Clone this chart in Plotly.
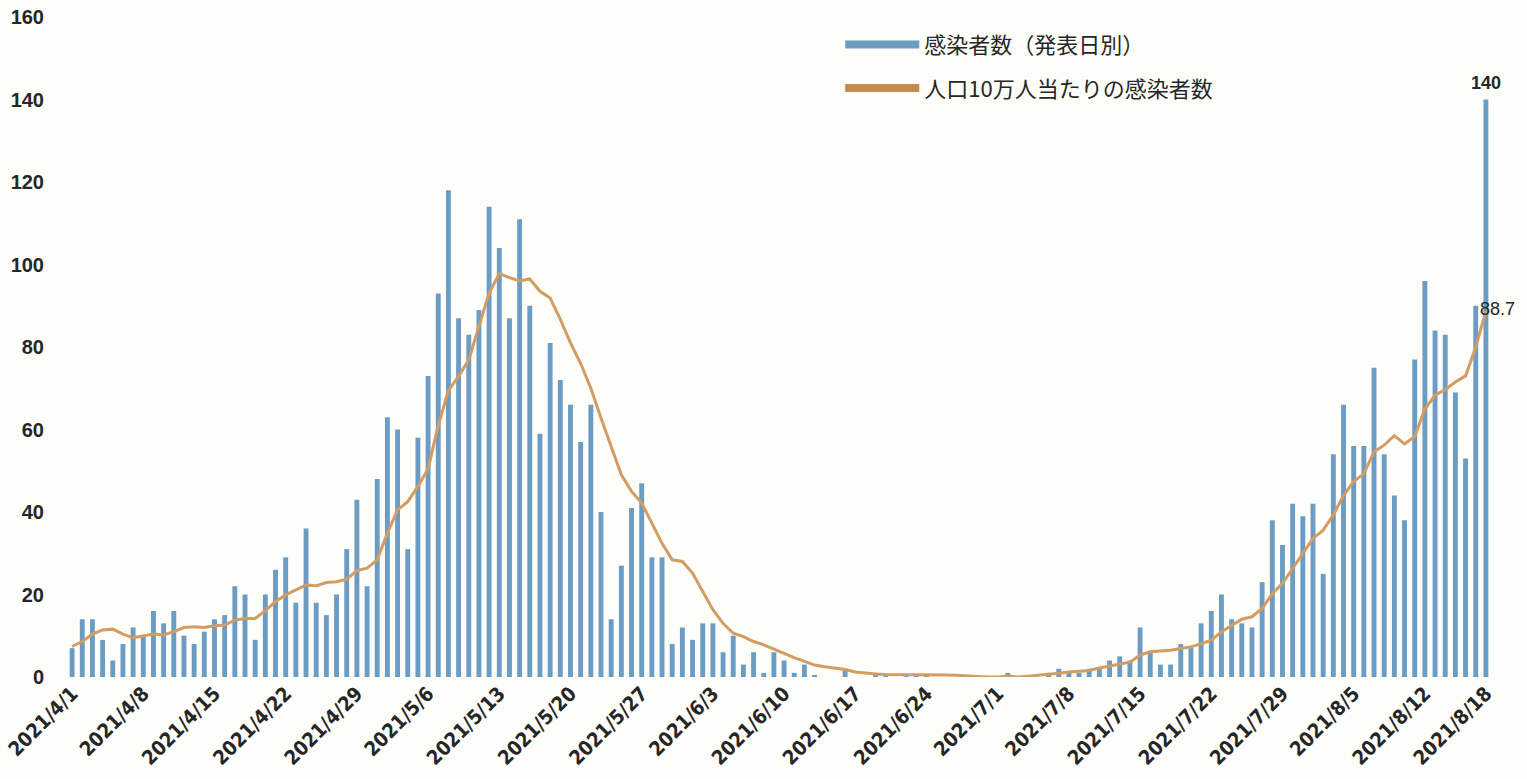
import pandas as pd
import plotly.graph_objects as go

# ---- data ----
dates = pd.date_range("2021-04-01", "2021-08-18", freq="D")
day_labels = [f"{d.year}/{d.month}/{d.day}" for d in dates]

cases = [
    7, 14, 14, 9, 4, 8, 12, 10, 16, 13,
    16, 10, 8, 11, 14, 15, 22, 20, 9, 20,
    26, 29, 18, 36, 18, 15, 20, 31, 43, 22,
    48, 63, 60, 31, 58, 73, 93, 118, 87, 83,
    89, 114, 104, 87, 111, 90, 59, 81, 72, 66,
    57, 66, 40, 14, 27, 41, 47, 29, 29, 8,
    12, 9, 13, 13, 6, 10, 3, 6, 1, 6,
    4, 1, 3, 0.5, 0, 0, 2, 0, 0, 1,
    0.5, 0, 0.5, 0.5, 0.5, 0, 0, 0, 0, 0,
    0, 0, 1, 0, 0, 0, 1, 2, 1, 1,
    2, 2, 4, 5, 4, 12, 6, 3, 3, 8,
    7, 13, 16, 20, 14, 13, 12, 23, 38, 32,
    42, 39, 42, 25, 54, 66, 56, 56, 75, 54,
    44, 38, 77, 96, 84, 83, 69, 53, 90, 140,
]

per100k = [
    7.4, 8.6, 10.4, 11.4, 11.6, 10.4, 9.5, 10.0, 10.4, 10.2,
    11.0, 12.0, 12.2, 12.0, 12.4, 12.6, 13.8, 14.2, 14.2, 16.1,
    18.3, 19.9, 21.1, 22.3, 22.1, 22.9, 23.1, 23.7, 25.8, 26.4,
    28.4, 34.9, 40.5, 42.5, 46.2, 50.5, 61.0, 69.5, 72.9, 76.9,
    85.0, 93.1, 97.8, 96.8, 96.0, 96.5, 93.5, 91.9, 86.7, 81.0,
    76.0, 70.0, 62.8, 55.9, 49.0, 45.0, 42.2, 37.3, 32.4, 28.4,
    28.0, 25.2, 20.7, 16.3, 13.0, 10.6, 9.8, 8.6, 7.8, 6.7,
    5.6, 4.7, 3.8, 2.9, 2.5, 2.2, 1.8, 1.2, 0.9, 0.7,
    0.6, 0.6, 0.6, 0.6, 0.6, 0.6, 0.5, 0.4, 0.2, 0.1,
    0.0, 0.0, 0.2, 0.0, 0.2, 0.4, 0.6, 0.9, 1.2, 1.4,
    1.6, 2.2, 2.7, 3.1, 3.6, 5.3, 6.1, 6.3, 6.5, 6.9,
    7.3, 8.1, 8.9, 11.0, 12.5, 14.0, 14.6, 16.6, 20.2, 22.7,
    26.3, 29.9, 33.6, 35.6, 39.3, 44.0, 47.4, 49.3, 54.6, 56.2,
    58.5, 56.5, 58.3, 65.0, 68.3, 69.7, 71.5, 73.0, 80.0, 88.7,
]

tick_labels = day_labels[::7] + [day_labels[-1]]
y_ticks = [0, 20, 40, 60, 80, 100, 120, 140, 160]

name_cases = "感染者数（発表日別）"
name_rate = "人口10万人当たりの感染者数"

# ---- styles ----
BAR_COLOR = "#6a9cc4"
LINE_COLOR = "#d39c62"
LEG_LINE_COLOR = "#c58a4e"
BG = "#fdfdf9"
TXT = "#262626"
TICK_FONT = "Liberation Sans Narrow, DejaVu Sans Condensed, Liberation Sans"

fig = go.Figure()

fig.add_trace(go.Bar(
    x=day_labels, y=cases, name=name_cases,
    marker=dict(color=BAR_COLOR, line=dict(width=0)),
    showlegend=False,
))

fig.add_trace(go.Scatter(
    x=day_labels, y=per100k, name=name_rate, mode="lines",
    line=dict(color=LINE_COLOR, width=3),
    cliponaxis=False, showlegend=False,
))

# legend proxies (wide swatches as in the reference)
fig.add_trace(go.Scatter(
    x=[None], y=[None], mode="lines", name=name_cases,
    line=dict(color=BAR_COLOR, width=8), legendgroup="a",
))
fig.add_trace(go.Scatter(
    x=[None], y=[None], mode="lines", name=name_rate,
    line=dict(color=LEG_LINE_COLOR, width=8), legendgroup="b",
))

# value labels at the last day
fig.add_annotation(
    x=day_labels[-1], y=cases[-1], text=f"{cases[-1]:g}",
    showarrow=False, yanchor="bottom", yshift=5,
    font=dict(family="Liberation Sans", size=18, color=TXT, weight="bold"),
)
fig.add_annotation(
    x=day_labels[-1], y=per100k[-1], text=f"{per100k[-1]:g}",
    showarrow=False, xanchor="center", yanchor="middle", xshift=12, yshift=2,
    font=dict(family="Liberation Sans", size=18, color=TXT),
)

fig.update_layout(
    width=1527, height=779,
    margin=dict(l=67, r=36, t=17, b=102, autoexpand=False),
    paper_bgcolor=BG, plot_bgcolor=BG,
    bargap=0.52,
    font=dict(family="Liberation Sans", color=TXT),
    legend=dict(
        x=0.543, y=0.99, xanchor="left", yanchor="top",
        bgcolor="rgba(0,0,0,0)", itemwidth=74, tracegroupgap=12,
        font=dict(family="Noto Sans CJK JP", size=22, color=TXT),
    ),
    xaxis=dict(
        type="category", range=[-0.5, len(day_labels) - 0.5],
        tickmode="array", tickvals=tick_labels, ticktext=tick_labels,
        tickangle=-45, showgrid=False, showline=False, zeroline=False,
        automargin=False,
        ticks="", tickfont=dict(family=TICK_FONT, size=20, color=TXT, weight="bold"),
    ),
    yaxis=dict(
        range=[0, 160], tickmode="array", tickvals=y_ticks,
        showgrid=False, showline=False, zeroline=False,
        automargin=False,
        ticks="outside", ticklen=18, tickcolor="rgba(0,0,0,0)",
        tickfont=dict(family="Liberation Sans", size=20, color=TXT, weight="bold"),
    ),
)

fig.write_html(
    "out.html",
    config={"displayModeBar": False},
    post_script="document.body.style.margin='0';",
)
